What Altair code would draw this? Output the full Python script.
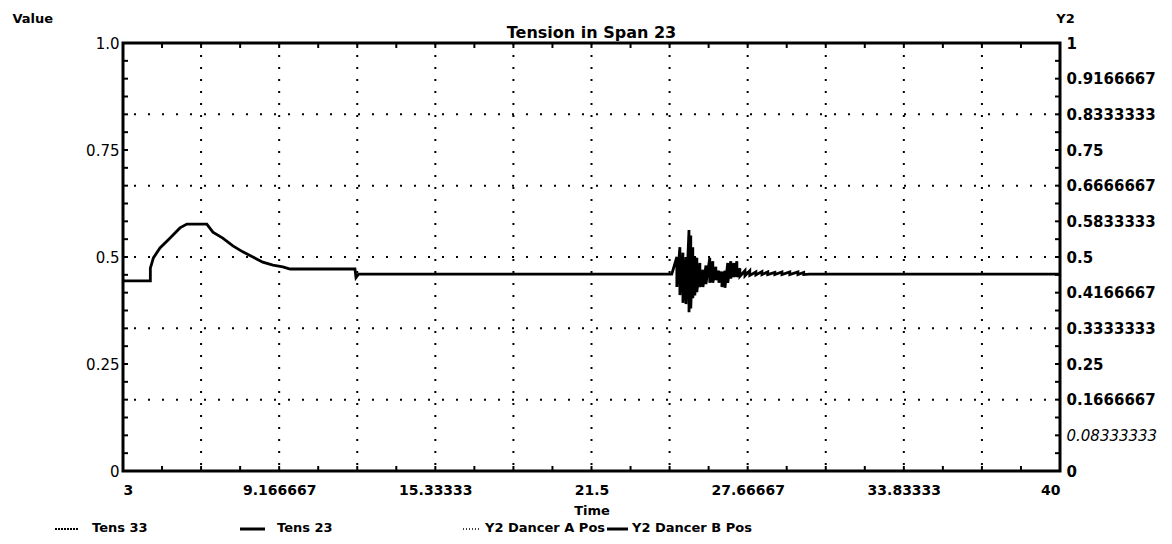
import altair as alt
import pandas as pd

# ---------------- data ----------------
# Tens 23: smooth part (time, value)
main_t = [3.0, 4.08, 4.08, 4.2, 4.46, 4.85, 5.25, 5.52, 6.31, 6.55, 6.94, 7.34, 7.73,
          8.13, 8.52, 8.92, 9.31, 9.6, 12.16, 12.2, 12.3, 24.67]
main_v = [0.444, 0.444, 0.474, 0.498, 0.521, 0.544, 0.568, 0.577, 0.577, 0.558, 0.544,
          0.526, 0.512, 0.5, 0.488, 0.481, 0.477, 0.472, 0.472, 0.452, 0.46, 0.46]
# Tens 23: oscillation around t = 25..30 (time, upper, lower)
osc_t = [24.87, 24.99, 25.11, 25.23, 25.35, 25.42, 25.50, 25.58, 25.66, 25.78, 25.90,
         26.02, 26.17, 26.29, 26.41, 26.53, 26.65, 26.77, 26.88, 27.00, 27.12, 27.24,
         27.36, 27.56, 27.75, 27.99, 28.23, 28.46, 28.74, 29.02, 29.33, 29.65, 29.88]
osc_hi = [0.500, 0.523, 0.510, 0.500, 0.563, 0.550, 0.523, 0.500, 0.498, 0.486, 0.470,
          0.480, 0.498, 0.490, 0.477, 0.468, 0.466, 0.468, 0.486, 0.490, 0.486, 0.490,
          0.474, 0.468, 0.468, 0.465, 0.466, 0.465, 0.464, 0.465, 0.465, 0.465, 0.464]
osc_lo = [0.430, 0.411, 0.393, 0.390, 0.371, 0.380, 0.404, 0.410, 0.418, 0.430, 0.430,
          0.437, 0.440, 0.440, 0.446, 0.440, 0.430, 0.428, 0.440, 0.450, 0.453, 0.453,
          0.455, 0.456, 0.457, 0.458, 0.459, 0.459, 0.459, 0.459, 0.459, 0.459, 0.459]
tail_t = [30.1, 40.0]
tail_v = [0.46, 0.46]

x_labels = ["3", "9.166667", "15.33333", "21.5", "27.66667", "33.83333", "40"]
y_left_labels = ["0", "0.25", "0.5", "0.75", "1.0"]
y_right_labels = ["0", "0.08333333", "0.1666667", "0.25", "0.3333333", "0.4166667", "0.5",
                  "0.5833333", "0.6666667", "0.75", "0.8333333", "0.9166667", "1"]
legend_labels = ["Tens 33", "Tens 23", "Y2 Dancer A Pos", "Y2 Dancer B Pos"]
title_text = "Tension in Span 23"

# ---------------- build tables ----------------
X0, X1 = 3.0, 40.0
step_lab = (X1 - X0) / 6
rows = []
for t, v in zip(main_t, main_v):
    rows.append((t, v))
for t, h, l in zip(osc_t, osc_hi, osc_lo):
    rows.append((t, h))
    rows.append((t, l))
for t, v in zip(tail_t, tail_v):
    rows.append((t, v))
line_df = pd.DataFrame(rows, columns=["t", "v"])
line_df["o"] = range(len(line_df))

xtick_vals = [X0 + k * (X1 - X0) / 24 for k in range(25)]
ytick_vals = [k / 24 for k in range(25)]
vgrid_vals = [X0 + k * (X1 - X0) / 12 for k in range(1, 12)]
hgrid_vals = [k / 6 for k in range(1, 6)]
xlab_vals = [X0 + k * step_lab for k in range(7)]

W, H = 937, 428
FONT = "DejaVu Sans"

xs = alt.Scale(domain=[X0, X1], nice=False, zero=False)
ys = alt.Scale(domain=[0, 1], nice=False, zero=False)

x_lab_expr = "[" + ",".join("'%s'" % s for s in x_labels) + "][round((datum.value-3)/(37/6))]"
yl_expr = "[" + ",".join("'%s'" % s for s in y_left_labels) + "][round(datum.value*4)]"
yr_expr = "[" + ",".join("'%s'" % s for s in y_right_labels) + "][round(datum.value*12)]"

tick_df_x = pd.DataFrame({"t": xtick_vals})
tick_df_y = pd.DataFrame({"v": ytick_vals})

# gridlines
vgrid = alt.Chart(pd.DataFrame({"t": vgrid_vals})).mark_rule(
    color="black", strokeWidth=2, strokeDash=[2, 10]
).encode(x=alt.X("t:Q", scale=xs, axis=None))
hgrid = alt.Chart(pd.DataFrame({"v": hgrid_vals})).mark_rule(
    color="black", strokeWidth=2, strokeDash=[2, 12]
).encode(y=alt.Y("v:Q", scale=ys, axis=None))

# axes with labels (left / right / bottom)
left_axis = alt.Chart(pd.DataFrame({"v": [0, 0.25, 0.5, 0.75, 1.0]})).mark_rule(opacity=0).encode(
    y=alt.Y("v:Q", scale=ys, axis=alt.Axis(
        orient="left", values=[0, 0.25, 0.5, 0.75, 1.0], labelExpr=yl_expr,
        ticks=False, domain=False, grid=False, labelPadding=4,
        labelFont=FONT, labelFontSize=15, labelFontWeight="normal", labelColor="black",
        title="Value", titleAngle=0, titleX=-111, titleY=-25, titleAlign="left",
        titleBaseline="middle", titleFont=FONT, titleFontSize=13, titleFontWeight="bold",
        titleColor="black")),
    x=alt.value(0),
)
right_axis = alt.Chart(pd.DataFrame({"v": [k / 12 for k in range(13)]})).mark_rule(opacity=0).encode(
    y=alt.Y("v:Q", scale=ys, axis=alt.Axis(
        orient="right", values=[k / 12 for k in range(13)], labelExpr=yr_expr,
        ticks=False, domain=False, grid=False, labelPadding=6,
        labelFont=FONT, labelFontSize=15, labelColor="black",
        labelFontWeight={"condition": {"test": "round(datum.value*12)==1", "value": "normal"}, "value": "bold"},
        labelFontStyle={"condition": {"test": "round(datum.value*12)==1", "value": "italic"}, "value": "normal"},
        title="Y2", titleAngle=0, titleX=5, titleY=-25, titleAlign="center",
        titleBaseline="middle", titleFont=FONT, titleFontSize=13, titleFontWeight="bold",
        titleColor="black")),
    x=alt.value(W),
)
bottom_axis = alt.Chart(pd.DataFrame({"t": xlab_vals})).mark_rule(opacity=0).encode(
    x=alt.X("t:Q", scale=xs, axis=alt.Axis(
        orient="bottom", values=xlab_vals, labelExpr=x_lab_expr,
        ticks=False, domain=False, grid=False, labelPadding=12,
        labelFont=FONT, labelFontSize=14, labelFontWeight="bold", labelColor="black",
        title="Time", titleY=39, titleBaseline="middle", titleFont=FONT,
        titleFontSize=13, titleFontWeight="bold", titleColor="black")),
    y=alt.value(H),
)

# inward tick marks
tk_left = alt.Chart(tick_df_y).mark_rule(color="black", strokeWidth=2).encode(
    y=alt.Y("v:Q", scale=ys, axis=None), x=alt.value(0), x2=alt.value(5))
tk_right = alt.Chart(tick_df_y).mark_rule(color="black", strokeWidth=2).encode(
    y=alt.Y("v:Q", scale=ys, axis=None), x=alt.value(W - 5), x2=alt.value(W))
tk_bottom = alt.Chart(tick_df_x).mark_rule(color="black", strokeWidth=2).encode(
    x=alt.X("t:Q", scale=xs, axis=None), y=alt.value(H - 5), y2=alt.value(H))
tk_top = alt.Chart(tick_df_x).mark_rule(color="black", strokeWidth=2).encode(
    x=alt.X("t:Q", scale=xs, axis=None), y=alt.value(0), y2=alt.value(5))

# data line
line = alt.Chart(line_df).mark_line(color="black", strokeWidth=2.8, clip=True).encode(
    x=alt.X("t:Q", scale=xs, axis=None),
    y=alt.Y("v:Q", scale=ys, axis=None),
    order="o:Q",
)

# frame
frame = alt.Chart(pd.DataFrame({"a": [0]})).mark_rect(
    fill=None, stroke="black", strokeWidth=3
).encode(x=alt.value(0), x2=alt.value(W), y=alt.value(0), y2=alt.value(H))

# title as text
title = alt.Chart(pd.DataFrame({"label": [title_text]})).mark_text(
    font=FONT, fontSize=16, fontWeight="bold", align="center", baseline="middle", color="black"
).encode(text="label:N", x=alt.value(W / 2), y=alt.value(-10))

# manual legend below the plot
leg_sym = [(-68, -45), (117, 142), (340, 357), (484, 505)]
leg_txt = [-31, 154, 362, 509]
leg_style = [dict(strokeWidth=2, strokeDash=[2, 1]), dict(strokeWidth=3),
             dict(strokeWidth=1.5, strokeDash=[1, 2]), dict(strokeWidth=3)]
leg_layers = []
for lab, (a, b), tx, st in zip(legend_labels, leg_sym, leg_txt, leg_style):
    leg_layers.append(
        alt.Chart(pd.DataFrame({"label": [lab]})).mark_rule(color="black", **st).encode(
            x=alt.value(a), x2=alt.value(b), y=alt.value(H + 58))
    )
    leg_layers.append(
        alt.Chart(pd.DataFrame({"label": [lab]})).mark_text(
            font=FONT, fontSize=13, fontWeight="bold", align="left", baseline="middle",
            color="black").encode(text="label:N", x=alt.value(tx), y=alt.value(H + 57))
    )

chart = alt.layer(
    vgrid, hgrid, tk_left, tk_right, tk_bottom, tk_top, line, frame, title,
    left_axis, right_axis, bottom_axis, *leg_layers
).resolve_axis(x="independent", y="independent").properties(
    width=W, height=H,
    background="white",
    autosize=alt.AutoSizeParams(type="none"),
    padding={"left": 123, "top": 43, "right": 112, "bottom": 73},
).configure_view(stroke=None)

chart.save("out.html", embed_options={"renderer": "svg", "actions": False})
